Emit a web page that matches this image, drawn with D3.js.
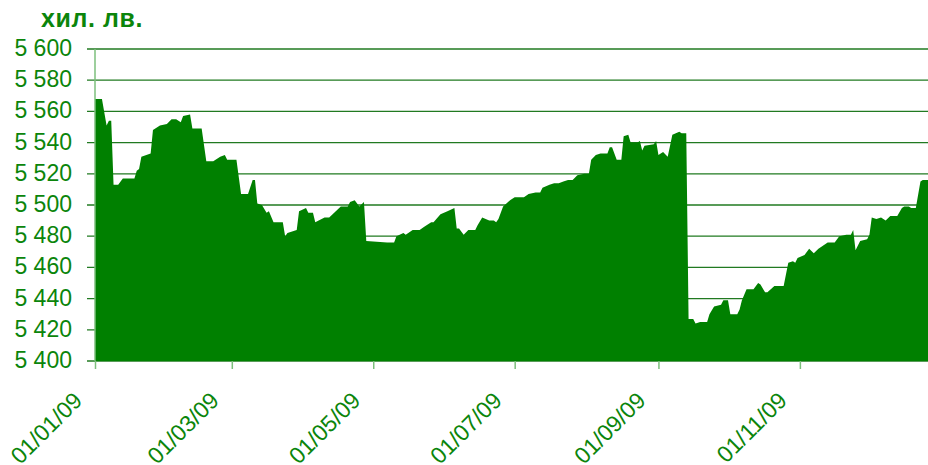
<!DOCTYPE html>
<html>
<head>
<meta charset="utf-8">
<script src="https://cdn.jsdelivr.net/npm/d3@7"></script>
<style>
  body { margin: 0; background: #fff; }
  text { font-family: Arial, "Liberation Sans", sans-serif; }
</style>
</head>
<body>
<div id="chart"></div>
<script>
// values (thousand leva), grouped by month
var dates = [
  "2009-01-01","2009-01-04","2009-01-06","2009-01-07","2009-01-08","2009-01-09","2009-01-11","2009-01-13","2009-01-18","2009-01-19","2009-01-20","2009-01-21","2009-01-25","2009-01-26","2009-01-29",
  "2009-02-01","2009-02-03","2009-02-05","2009-02-07","2009-02-08","2009-02-11","2009-02-12","2009-02-16","2009-02-18","2009-02-21","2009-02-24","2009-02-26","2009-02-27",
  "2009-03-03","2009-03-05","2009-03-08","2009-03-10","2009-03-11","2009-03-12","2009-03-14","2009-03-16","2009-03-17","2009-03-19","2009-03-23","2009-03-24","2009-03-25","2009-03-29","2009-03-30",
  "2009-04-02","2009-04-03","2009-04-05","2009-04-06","2009-04-10","2009-04-12","2009-04-17","2009-04-20","2009-04-21","2009-04-23","2009-04-25","2009-04-27","2009-04-28",
  "2009-05-07","2009-05-10","2009-05-11","2009-05-14","2009-05-15","2009-05-18","2009-05-21","2009-05-23","2009-05-26","2009-05-27","2009-05-30",
  "2009-06-02","2009-06-05","2009-06-06","2009-06-07","2009-06-09","2009-06-11","2009-06-14","2009-06-15","2009-06-17","2009-06-20","2009-06-22","2009-06-23","2009-06-24","2009-06-26","2009-06-29",
  "2009-07-01","2009-07-03","2009-07-05","2009-07-07","2009-07-10","2009-07-12","2009-07-13","2009-07-16","2009-07-18","2009-07-20","2009-07-22","2009-07-24","2009-07-26","2009-07-28","2009-07-31",
  "2009-08-02","2009-08-03","2009-08-05","2009-08-07","2009-08-10","2009-08-11","2009-08-12","2009-08-14","2009-08-16","2009-08-17","2009-08-19","2009-08-20","2009-08-23","2009-08-24","2009-08-25","2009-08-26","2009-08-30","2009-08-31",
  "2009-09-01","2009-09-03","2009-09-05","2009-09-07","2009-09-10","2009-09-11","2009-09-13","2009-09-14","2009-09-16","2009-09-17","2009-09-19","2009-09-22","2009-09-23","2009-09-25","2009-09-28","2009-09-29",
  "2009-10-01","2009-10-02","2009-10-05","2009-10-06","2009-10-07","2009-10-09","2009-10-12","2009-10-14","2009-10-15","2009-10-17","2009-10-18","2009-10-21","2009-10-22","2009-10-25","2009-10-27","2009-10-29","2009-10-30","2009-10-31",
  "2009-11-03","2009-11-05","2009-11-07","2009-11-09","2009-11-13","2009-11-16","2009-11-18","2009-11-21","2009-11-23","2009-11-24","2009-11-25","2009-11-27","2009-11-30",
  "2009-12-01","2009-12-02","2009-12-04","2009-12-06","2009-12-08","2009-12-10","2009-12-13","2009-12-15","2009-12-16","2009-12-18","2009-12-19","2009-12-21","2009-12-23","2009-12-24","2009-12-26","2009-12-31"
];
var values = [
  5568,5568,5551,5554,5554,5513,5513,5517,5517,5522,5523,5531,5533,5548,5551,
  5552,5555,5555,5553,5557,5558,5549,5549,5528,5528,5531,5532,5529,
  5529,5507,5507,5516,5516,5501,5500,5495,5496,5489,5489,5480,5482,5484,5496,
  5498,5495,5495,5489,5492,5492,5499,5499,5502,5503,5499,5502,5477,
  5476,5476,5480,5482,5481,5484,5484,5486,5489,5489,5494,
  5496,5498,5485,5485,5481,5484,5484,5487,5492,5490,5490,5489,5491,5499,5503,
  5505,5505,5505,5507,5508,5508,5511,5513,5514,5514,5515,5516,5516,5519,5520,
  5520,5529,5532,5533,5533,5537,5537,5529,5529,5544,5545,5540,5540,5541,5535,5538,5539,5541,
  5532,5534,5531,5545,5547,5546,5546,5427,5427,5424,5425,5425,5430,5435,5436,5439,
  5439,5430,5430,5433,5439,5446,5446,5450,5449,5444,5444,5448,5448,5448,5463,5464,5463,5466,
  5468,5472,5469,5472,5476,5476,5480,5481,5481,5484,5471,5477,5478,
  5481,5492,5491,5492,5490,5493,5493,5498,5499,5499,5498,5498,5515,5516,5516,5516
];
var xTicks = ["2009-01-01","2009-03-01","2009-05-01","2009-07-01","2009-09-01","2009-11-01"];
var yTicks = [5400,5420,5440,5460,5480,5500,5520,5540,5560,5580,5600];
var unitLabel = "хил. лв.";

var green = "#008000";
var textGreen = "#0b850b";
var width = 928, height = 465;
var margin = { left: 95, top: 49, bottom: 104 };
var plotBottom = height - margin.bottom;

var parse = d3.timeParse("%Y-%m-%d");
var data = dates.map(function(d, i){ return { date: parse(d), value: values[i] }; });

var svg = d3.select("#chart")
    .append("svg")
        .attr("width", width)
        .attr("height", height);

// X scale: whole year; the right end runs a little past the window
var x = d3.scaleTime()
    .domain([parse("2009-01-01"), parse("2009-12-31")])
    .range([margin.left, 939]);
var y = d3.scaleLinear()
    .domain([5400, 5600])
    .range([plotBottom, margin.top]);

var fmt = d3.formatLocale({ decimal: ",", thousands: " ", grouping: [3], currency: ["", ""] }).format(",d");

// horizontal grid lines (also act as the y tick marks)
svg.append("g")
    .selectAll("line")
    .data(yTicks)
    .enter().append("line")
        .attr("x1", margin.left - 8)
        .attr("x2", width)
        .attr("y1", function(d){ return y(d); })
        .attr("y2", function(d){ return y(d); })
        .attr("stroke", "#217a21")
        .attr("stroke-width", 1.3);

// area
var area = d3.area()
    .x(function(d){ return x(d.date); })
    .y0(y(5400))
    .y1(function(d){ return y(d.value); });

svg.append("path")
    .datum(data)
    .attr("fill", green)
    .attr("d", area);

// y axis labels
svg.append("g")
    .selectAll("text")
    .data(yTicks)
    .enter().append("text")
        .attr("x", 72)
        .attr("y", function(d){ return y(d) + 7; })
        .attr("text-anchor", "end")
        .attr("font-size", "23px")
        .attr("fill", textGreen)
        .text(function(d){ return fmt(d); });

// y axis line
svg.append("line")
    .attr("x1", margin.left).attr("x2", margin.left)
    .attr("y1", margin.top).attr("y2", plotBottom)
    .attr("stroke", "#7cbf7c")
    .attr("stroke-width", 1.5);

// x axis
var xAxisCall = d3.axisBottom(x)
    .tickValues(xTicks.map(parse))
    .tickSize(8)
    .tickFormat(d3.timeFormat("%d/%m/%y"));

var xAxisGroup = svg.append("g")
    .attr("transform", "translate(0," + plotBottom + ")")
    .call(xAxisCall);
xAxisGroup.select(".domain").remove();
xAxisGroup.selectAll(".tick line")
    .attr("stroke", "#7cbf7c")
    .attr("stroke-width", 1.5);
xAxisGroup.selectAll(".tick text")
    .attr("font-size", "23px")
    .attr("font-family", "Arial, 'Liberation Sans', sans-serif")
    .attr("fill", textGreen)
    .attr("text-anchor", "end")
    .attr("x", 0).attr("y", 0).attr("dy", 0)
    .attr("transform", "translate(-12,41) rotate(-45)");

// unit label
svg.append("text")
    .attr("x", 41)
    .attr("y", 27)
    .attr("font-size", "25px")
    .attr("font-weight", "bold")
    .attr("letter-spacing", "0.6px")
    .attr("fill", textGreen)
    .text(unitLabel);
</script>
</body>
</html>
